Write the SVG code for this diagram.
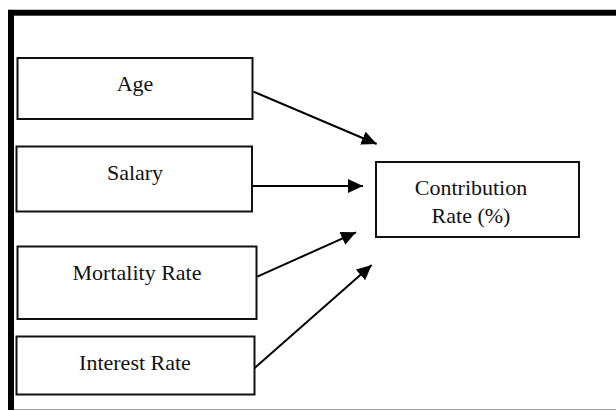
<svg xmlns="http://www.w3.org/2000/svg" width="616" height="410" viewBox="0 0 616 410">
<style>
.box{fill:#fff;stroke:#111;stroke-width:2}
.lbl{font-family:"Liberation Serif","Times New Roman",serif;font-size:22px;fill:#111;text-anchor:middle}
.con{stroke:#000;stroke-width:2;fill:none;marker-end:url(#ah)}
</style>
<defs>
<marker id="ah" markerUnits="userSpaceOnUse" markerWidth="16" markerHeight="15" refX="15" refY="7" orient="auto" viewBox="0 0 16 15">
<path d="M0,0 L15,7 L0,14 z" fill="#000"/>
</marker>
</defs>
<rect x="0" y="0" width="616" height="410" fill="#fff"/>
<g id="frame">
<line x1="8" y1="9.5" x2="616" y2="9.5" stroke="#bbb" stroke-width="1"/>
<line x1="14" y1="409.5" x2="616" y2="409.5" stroke="#999" stroke-width="1"/>
<rect x="8" y="10" width="608" height="5.7" fill="#000"/>
<rect x="8" y="10" width="6" height="400" fill="#000"/>
</g>
<g id="age">
<rect class="box" x="17.5" y="58" width="235" height="61"/>
<text class="lbl" x="135" y="91">Age</text>
</g>
<g id="salary">
<rect class="box" x="16.5" y="146.5" width="235.5" height="65"/>
<text class="lbl" x="135" y="180">Salary</text>
</g>
<g id="mortality">
<rect class="box" x="17.5" y="246.5" width="239" height="72.5"/>
<text class="lbl" x="137" y="280">Mortality Rate</text>
</g>
<g id="interest">
<rect class="box" x="16.5" y="336.5" width="238" height="58"/>
<text class="lbl" x="135" y="369.5">Interest Rate</text>
</g>
<g id="contribution">
<rect class="box" x="376" y="162" width="203" height="75"/>
<text class="lbl" x="471" y="195">Contribution</text>
<text class="lbl" x="471" y="223">Rate (%)</text>
</g>
<g id="connectors">
<line class="con" x1="253.5" y1="91.7" x2="376.7" y2="144"/>
<line class="con" x1="253" y1="186" x2="363" y2="186"/>
<line class="con" x1="257.3" y1="276.7" x2="356" y2="232.3"/>
<line class="con" x1="254.6" y1="368" x2="371.7" y2="265"/>
</g>
</svg>
